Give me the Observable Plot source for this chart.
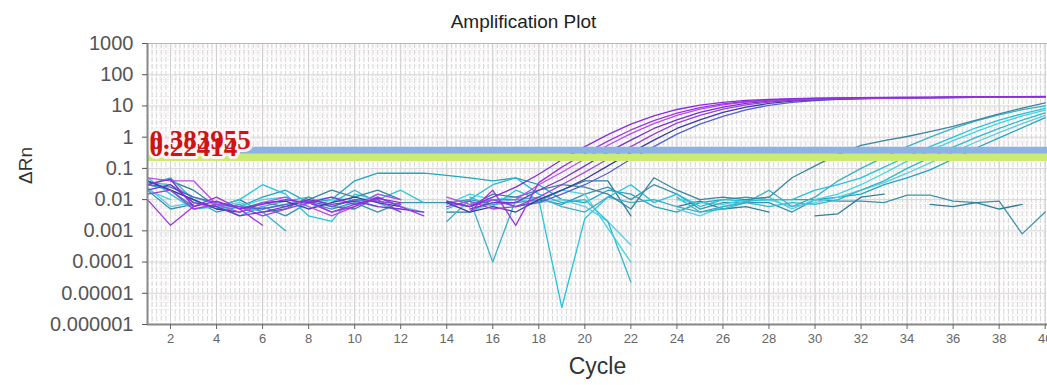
<!DOCTYPE html>
<html><head><meta charset="utf-8">
<script src="https://cdn.jsdelivr.net/npm/d3@7"></script>
<script src="https://cdn.jsdelivr.net/npm/@observablehq/plot@0.6"></script>
<style>
body{margin:0;background:#fff;font-family:"Liberation Sans",Arial,sans-serif;}
#title{width:1047px;height:20px;padding-top:12px;text-align:center;font-size:19px;line-height:19px;color:#222;}
#chart svg{display:block;}
</style></head><body>
<div id="title">Amplification Plot</div>
<div id="chart"></div>
<script>
const cycles = [1,2,3,4,5,6,7,8,9,10,11,12,13,14,15,16,17,18,19,20,21,22,23,24,25,26,27,28,29,30,31,32,33,34,35,36,37,38,39,40];

// teal / cyan samples (late amplification + non-amplifying)
const cyan1 = [0.04,0.02,0.006,null,0.005,0.008,0.006,0.01,0.02,0.012, 0.02,0.01,null,0.008,0.006,0.015,0.012,0.02,0.03,0.025, 0.015,0.005,0.05,0.02,0.01,0.012,0.01,0.012,0.05,0.12, 0.28,0.55,0.78,1.05,1.5,2.2,3.5,5.6,8.5,12.5];
const cyan2 = [0.03,0.05,0.01,0.005,0.007,0.004,0.001,null,0.008,0.02, 0.008,0.004,null,0.002,0.01,0.0001,0.01,0.012,0.006,0.004, 0.012,0.008,0.01,0.006,0.004,0.006,0.008,0.02,0.006,0.012, 0.04,0.1,0.23,0.5,1.0,1.9,3.3,5.2,7.6,10];
const cyan3 = [0.05,0.015,0.005,0.006,0.01,0.03,0.015,0.003,0.002,0.015, 0.01,0.02,0.008,null,0.012,0.006,0.02,0.01,0.0000035,0.0025, 0.012,0.03,0.008,0.015,0.006,0.01,0.009,0.01,0.01,0.02, 0.03,0.05,0.11,0.24,0.5,1.0,2.0,3.5,5.6,8.4];
const cyan4 = [0.02,0.01,null,0.005,0.006,0.01,0.012,0.005,0.01,0.007, 0.015,0.01,null,0.007,0.015,0.01,0.012,0.01,0.02,0.015, 0.0012,0.0001,null,0.01,0.008,0.007,0.01,0.012,0.005,0.01, 0.015,0.03,0.07,0.17,0.37,0.78,1.5,2.8,4.8,7.3];
const cyan5 = [0.035,0.03,0.012,0.007,0.003,0.006,0.009,0.012,0.006,0.01, 0.006,null,null,0.005,0.01,0.03,0.05,0.015,0.008,0.01, 0.002,0.000023,null,0.012,0.004,0.005,0.008,0.006,0.008,0.007, 0.01,0.02,0.04,0.1,0.22,0.48,0.98,1.9,3.5,6];
const cyan6 = [0.025,0.006,0.008,0.006,0.008,0.005,0.007,0.009,0.012,0.009, 0.012,0.006,0.004,null,0.004,0.008,0.01,0.008,0.01,0.006, 0.002,0.00035,null,0.005,0.003,0.006,0.009,0.01,0.006,0.008, 0.012,0.02,0.035,0.07,0.15,0.33,0.7,1.4,2.7,5];
const cyan7 = [0.03,0.02,0.01,0.004,0.006,0.012,0.02,0.008,0.01,0.04, 0.07,0.07,0.07,0.06,0.05,0.04,0.05,0.03,0.01,0.008, 0.02,0.015,0.006,0.004,0.008,0.01,0.012,0.01,0.01,0.01, 0.012,0.015,0.03,0.05,0.09,0.2,0.45,0.95,2,4.2];
const ntc1 = [0.02,0.005,0.007,null,0.004,0.006,0.003,0.008,0.005,0.008, 0.004,0.008,0.008,0.008,0.01,0.007,0.008,0.01,0.007,0.015, 0.025,0.01,0.03,0.015,0.005,0.008,0.008,0.008,0.004,0.01, 0.009,0.009,0.008,0.014,0.014,0.009,0.008,0.009,0.0008,0.004];
const ntc2 = [null,0.04,0.02,0.006,0.01,0.004,0.005,0.012,0.006,0.005, 0.012,0.006,null,0.004,0.004,0.01,0.006,0.009,0.02,0.04, 0.04,0.003,null,0.006,0.009,0.005,0.006,0.004,null,0.003, 0.0035,0.012,0.015,null,0.007,0.006,0.008,0.005,0.007,null];

// purple samples (early amplification)
const purple1 = [0.03,0.045,0.006,0.009,0.005,0.007,0.01,0.008,0.012,0.007,0.011,0.008,null,0.009,0.006,0.012, 0.025,0.065,0.19,0.5,1.2,2.6,4.8,7.7,10.6,13.1,15,16.3,17.2,17.8,18.2,18.5,18.8,19,19.2,19.4,19.6,19.8,20,20.2];
const purple2 = [0.01,0.0015,0.006,0.012,0.005,0.0015,null,0.009,0.004,0.006,0.012,0.006,0.003,null,0.004,0.02, 0.0015,0.035,0.11,0.3,0.75,1.7,3.4,5.9,8.9,11.7,13.9,15.5,16.6,17.3,17.8,18.1,18.4,18.6,18.8,19,19.1,19.3,19.4,19.5];
const purple3 = [0.05,0.04,0.04,0.007,0.004,0.008,0.012,0.006,0.003,0.006,0.015,0.01,null,0.012,0.007,0.01, 0.01,0.03,0.075,0.2,0.55,1.3,2.7,5,7.9,10.9,13.3,15.1,16.3,17,17.5,17.9,18.2,18.4,18.6,18.8,19,19.1,19.2,19.3];
const purple4 = [0.02,0.03,0.008,0.006,0.003,0.004,0.006,0.01,0.007,0.009,0.006,0.005,0.004,null,0.005,0.008, 0.008,0.02,0.045,0.12,0.33,0.8,1.9,3.6,6.2,9.2,12,14.2,15.7,16.7,17.3,17.8,18.1,18.4,18.6,18.8,19,19.2,19.3,19.4];
const purple5 = [0.015,0.02,0.005,0.007,0.006,0.003,0.005,0.008,0.004,0.007,0.01,0.004,null,0.006,0.009,0.005, 0.006,0.012,0.03,0.075,0.2,0.5,1.25,2.8,5,7.9,10.9,13.3,15.1,16.3,17,17.5,17.9,18.2,18.5,18.7,18.9,19.1,19.3,19.5];
const purple6 = [0.04,0.02,0.01,0.005,0.004,0.008,0.009,0.005,0.008,0.012,0.008,0.006,null,0.008,0.004,0.006, 0.004,0.01,0.02,0.045,0.12,0.32,0.8,1.9,3.6,6.2,9.2,12,14.2,15.7,16.7,17.3,17.8,18.1,18.4,18.6,18.8,19,19.1,19.2];
const purple7 = [0.03,0.025,0.012,0.008,0.006,0.005,0.007,0.009,0.006,0.01,0.009,0.007,null,0.009,0.006,0.01, 0.006,0.008,0.015,0.03,0.07,0.2,0.5,1.25,2.6,4.6,7.5,10.5,13,14.9,16.2,17,17.5,17.9,18.2,18.5,18.7,18.9,19,19.1];

const seriesList = [ntc1, ntc2, cyan7, cyan6, cyan5, cyan4, cyan3, cyan2, cyan1, purple7, purple6, purple5, purple4, purple3, purple2, purple1];
const seriesColors = ["#3a93ad","#2f7f9a","#1fa6c2","#5ccbe0","#2eb9cf","#40d4e4","#22c5dc","#3ab0c8","#3a86a0","#5560d0","#3f3aa0","#9c40d8","#7a32c8","#b84de8","#a035e0","#8a2be2"];

const thresholdValues = [0.22414, 0.383955];
const thresholdLabels = ["0.22414", "0.383955"];
const thresholdColors = ["#cbeb74", "#8db3e2"];

const yTickValues = [1e-6,1e-5,1e-4,1e-3,1e-2,1e-1,1,10,100,1000];
const yTickLabels = ["0.000001","0.00001","0.0001","0.001","0.01","0.1","1","10","100","1000"];
const xTickValues = [2,4,6,8,10,12,14,16,18,20,22,24,26,28,30,32,34,36,38,40];

const rows = seriesList.flatMap((vals, s) => vals.map((v, i) => ({series: s, cycle: cycles[i], value: v, color: seriesColors[s]})));

const minorX = d3.range(5, 201).map(i => i / 5);
const minorY = [];
for (let e = -6; e < 3; e++) for (let m = 2; m <= 9; m++) minorY.push(m * Math.pow(10, e));

const chart = Plot.plot({
  width: 1047, height: 353,
  marginLeft: 147, marginRight: 0, marginTop: 11, marginBottom: 61,
  style: {fontFamily: "'Liberation Sans', Arial, sans-serif", background: "#fff"},
  x: {domain: [1, 40.1]},
  y: {type: "log", domain: [1e-6, 1000]},
  color: {type: "identity"},
  marks: [
    Plot.ruleY(minorY, {stroke: "#f0e8ea", strokeWidth: 1, strokeDasharray: "2,2"}),
    Plot.ruleX(minorX, {stroke: "#d6d6d6", strokeWidth: 1, strokeDasharray: "5,2"}),
    Plot.ruleX(xTickValues, {stroke: "#d0d0d0", strokeWidth: 1}),
    Plot.ruleY(yTickValues, {stroke: "#d6d6d6", strokeWidth: 1}),
    Plot.line(rows, {x: "cycle", y: "value", z: "series", stroke: "color", strokeWidth: 1.3}),
    Plot.ruleY(thresholdValues, {stroke: (d, i) => thresholdColors[i], strokeWidth: 7}),
    Plot.text(thresholdValues, {y: d => d, frameAnchor: "left", text: (d, i) => thresholdLabels[i], textAnchor: "start", lineAnchor: "bottom", dx: 2, dy: -1, fontSize: 27, fontWeight: "bold", fontFamily: "'Liberation Serif', serif", fill: "#fff", stroke: "#fff4f4", strokeWidth: 6}),
    Plot.text(thresholdValues, {y: d => d, frameAnchor: "left", text: (d, i) => thresholdLabels[i], textAnchor: "start", lineAnchor: "bottom", dx: 2, dy: -1, fontSize: 27, fontWeight: "bold", fontFamily: "'Liberation Serif', serif", fill: "#cc1414"}),
    Plot.ruleY([1000], {stroke: "#b8b8b8", strokeWidth: 1}),
    Plot.ruleX([1], {stroke: "#888", strokeWidth: 2}),
    Plot.ruleY([1e-6], {stroke: "#888", strokeWidth: 2}),
    Plot.axisY(yTickValues, {tickFormat: (d) => yTickLabels[yTickValues.indexOf(d)], tickSize: 5, tickPadding: 9, fontSize: 20, color: "#555", label: null}),
    Plot.axisX(xTickValues, {tickSize: 5, tickPadding: 4, fontSize: 13, color: "#666", label: null}),
    Plot.text(["ΔRn"], {frameAnchor: "left", dx: -122, rotate: -90, fontSize: 19, fill: "#333"}),
    Plot.text(["Cycle"], {frameAnchor: "bottom", dy: 49, fontSize: 23, fill: "#333"})
  ]
});
document.getElementById("chart").appendChild(chart);
</script>
</body></html>
